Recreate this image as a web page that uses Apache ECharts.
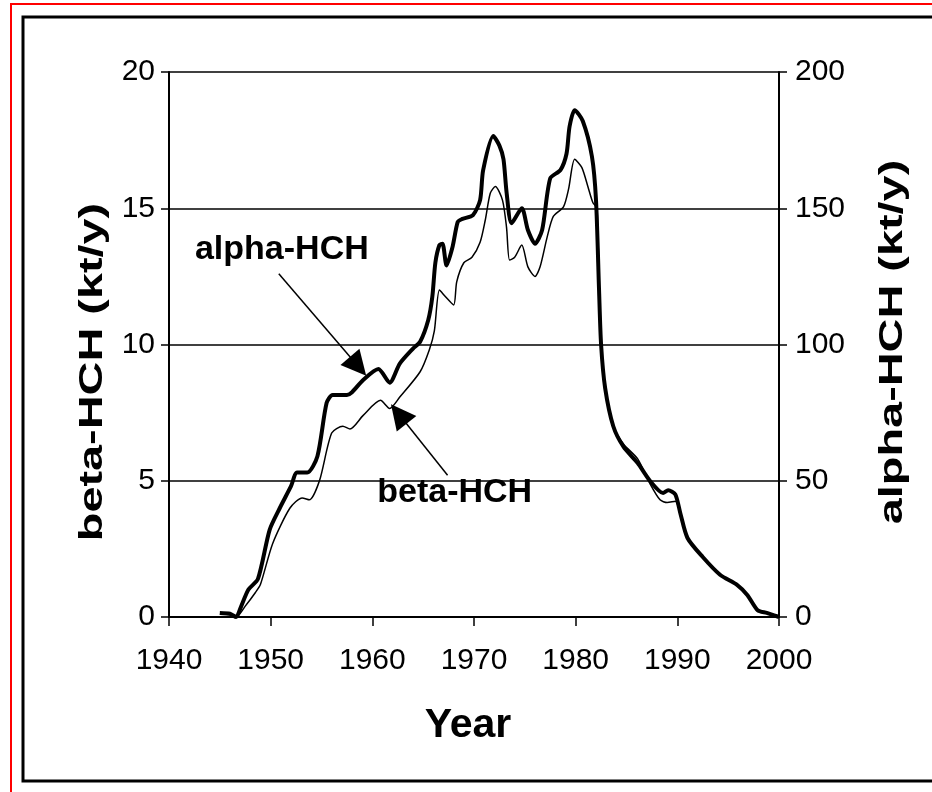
<!DOCTYPE html>
<html>
<head>
<meta charset="utf-8">
<script src="https://cdn.jsdelivr.net/npm/echarts@6/dist/echarts.min.js"></script>
<style>
html,body{margin:0;padding:0;background:#fff;}
#chart{width:932px;height:792px;}
</style>
</head>
<body>
<div id="chart"></div>
<script>
// alpha-HCH (right axis, kt/y)
var alphaYears = [1945.0,1946.0,1946.6,1947.0,1947.8,1948.75,1949.9,1950.9,1952.0,1952.6,1953.6,1954.6,1955.5,1956.1,1957.5,1958.0,1959.1,1960.6,1961.7,1962.7,1964.0,1964.7,1965.5,1965.9,1966.2,1966.6,1966.9,1967.3,1967.9,1968.4,1968.8,1969.9,1970.6,1970.9,1971.9,1972.5,1972.9,1973.2,1973.7,1974.7,1975.3,1976.0,1976.7,1977.5,1978.5,1979.1,1979.4,1979.9,1980.7,1981.6,1982.0,1982.3,1982.5,1982.9,1983.7,1984.7,1986.1,1987.3,1988.6,1989.1,1989.8,1990.3,1991.0,1992.5,1994.2,1995.9,1996.9,1997.9,1998.8,1999.6,2000.0];
var alphaValues = [1.5,1.2,0,3,10,14,32,40,48,53,53,59,78.5,81.5,81.5,82.5,87,91,86,93,98.5,101,109,117.5,130,136.5,137,129,136,145,146,147.5,153,164,176.5,173,168,156,144.5,150,142,137,142,161,164,170,180,186,182,169,153,120,100,84,70,62.5,56.5,50,45.5,46.5,45,38,29,22,15.5,11.7,8,2.5,1.5,0.5,0];
// beta-HCH (left axis, kt/y)
var betaYears = [1945.0,1946.0,1946.6,1947.5,1948.5,1949.0,1950.2,1951.9,1953.1,1953.8,1954.8,1956.0,1957.1,1957.8,1959.1,1960.8,1961.7,1962.7,1964.7,1965.6,1966.1,1966.6,1967.2,1968.0,1968.3,1969.0,1969.8,1970.6,1971.1,1971.6,1972.1,1972.8,1973.2,1973.5,1974.0,1974.7,1975.3,1976.0,1976.5,1977.2,1977.8,1978.8,1979.3,1979.9,1980.6,1981.2,1981.7,1982.1,1982.3,1982.5,1982.9,1983.7,1984.7,1986.1,1987.3,1988.3,1989.0,1989.8,1990.3,1991.0,1992.5,1994.2,1995.9,1996.9,1997.9,1998.8,1999.6,2000.0];
var betaValues = [0.1,0.08,0,0.4,0.9,1.2,2.7,4.0,4.37,4.3,5.0,6.75,7.0,6.9,7.4,7.95,7.65,8.07,9.0,9.8,10.5,12.0,11.75,11.45,12.3,13.0,13.2,13.75,14.55,15.55,15.8,15.3,14.3,13.1,13.2,13.65,12.85,12.5,12.85,13.95,14.7,15.05,15.7,16.8,16.5,15.8,15.2,15.0,12.0,10.0,8.4,7.0,6.35,5.8,4.9,4.3,4.2,4.25,3.8,2.9,2.2,1.55,1.17,0.8,0.25,0.15,0.05,0];

// annotations in data space (year, left-axis value)
var alphaLabel = {text:'alpha-HCH', pos:[1951.1, 13.5]};
var betaLabel = {text:'beta-HCH', pos:[1968.1, 4.55]};
var alphaArrow = [[1950.8, 12.6],[1958.6, 9.2]];
var betaArrow = [[1967.4, 5.2],[1962.6, 7.45]];

var xTicks = {min:1940, max:2000, interval:10};
var leftTicks = {min:0, max:20, interval:5};
var rightTicks = {min:0, max:200, interval:50};
var titles = {x:'Year', left:'beta-HCH (kt/y)', right:'alpha-HCH (kt/y)'};

function pairs(xs, ys){ return xs.map(function(x,i){ return [x, ys[i]]; }); }

var FONT = 'Liberation Sans, Arial, sans-serif';
var chart = echarts.init(document.getElementById('chart'));

function vtitle(text, x, y){
  return {type:'text', x:x, y:y, rotation:Math.PI/2, scaleX:1.42, scaleY:1,
    style:{text:text, x:0, y:0, fill:'#000', font:'bold 33px ' + FONT,
      textAlign:'center', textVerticalAlign:'middle', verticalAlign:'middle', align:'center'}};
}

var option = {
  animation:false,
  backgroundColor:'#fff',
  grid:{left:169, right:153, top:72, bottom:175, containLabel:false},
  xAxis:{
    type:'value', min:xTicks.min, max:xTicks.max, interval:xTicks.interval,
    name:titles.x, nameLocation:'middle', nameGap:88,
    nameTextStyle:{fontSize:41, fontWeight:'bold', color:'#000', fontFamily:FONT, padding:[0,12,0,0]},
    axisLine:{show:true, onZero:false, lineStyle:{color:'#000', width:2}},
    axisTick:{show:true, inside:false, length:9, lineStyle:{color:'#000', width:1.5}},
    axisLabel:{fontSize:30, color:'#000', margin:29, fontFamily:FONT,
      formatter:function(v){ return String(Math.round(v)); }},
    splitLine:{show:false}
  },
  yAxis:[{
    type:'value', position:'left', min:leftTicks.min, max:leftTicks.max, interval:leftTicks.interval,
    axisLine:{show:true, lineStyle:{color:'#000', width:2}},
    axisTick:{show:true, inside:false, length:8, lineStyle:{color:'#000', width:1.5}},
    axisLabel:{fontSize:30, color:'#000', margin:14, fontFamily:FONT},
    splitLine:{show:true, lineStyle:{color:'#000', width:1.5}}
  },{
    type:'value', position:'right', min:rightTicks.min, max:rightTicks.max, interval:rightTicks.interval,
    axisLine:{show:true, lineStyle:{color:'#000', width:2}},
    axisTick:{show:true, inside:false, length:8, lineStyle:{color:'#000', width:1.5}},
    axisLabel:{fontSize:30, color:'#000', margin:16, fontFamily:FONT},
    splitLine:{show:false}
  }],
  series:[{
    name:'beta-HCH', type:'line', yAxisIndex:0, data:pairs(betaYears, betaValues),
    showSymbol:false, smooth:0.25, lineStyle:{color:'#000', width:1.5}, z:3,
    markLine:{
      silent:true, symbol:['none','triangle'], symbolSize:25,
      lineStyle:{color:'#000', width:1.5, type:'solid'},
      itemStyle:{color:'#000'},
      label:{show:false},
      data:[
        [{coord:alphaArrow[0]},{coord:alphaArrow[1]}],
        [{coord:betaArrow[0]},{coord:betaArrow[1]}]
      ]
    },
    markPoint:{
      silent:true, symbol:'circle', symbolSize:0,
      label:{show:true, position:'inside', color:'#000', fontSize:34, fontWeight:'bold', fontFamily:FONT,
        formatter:function(p){return p.name;}},
      data:[
        {name:alphaLabel.text, coord:alphaLabel.pos},
        {name:betaLabel.text, coord:betaLabel.pos}
      ]
    }
  },{
    name:'alpha-HCH', type:'line', yAxisIndex:1, data:pairs(alphaYears, alphaValues),
    showSymbol:false, smooth:0.25, lineStyle:{color:'#000', width:4}, z:4
  }],
  graphic:[
    {type:'rect', shape:{x:11, y:4, width:940, height:820}, style:{fill:'none', stroke:'#ff0000', lineWidth:2}, z:-1},
    {type:'rect', shape:{x:23, y:17, width:930, height:764}, style:{fill:'none', stroke:'#000', lineWidth:3}, z:-1},
    vtitle(titles.left, 93, 372),
    vtitle(titles.right, 893, 342)
  ]
};
chart.setOption(option);
</script>
</body>
</html>
